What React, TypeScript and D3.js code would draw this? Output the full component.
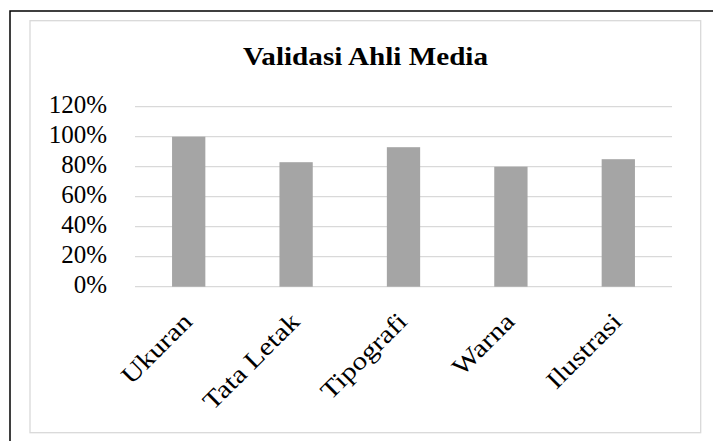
import React from "react";
import * as d3 from "d3";

const categories = ["Ukuran", "Tata Letak", "Tipografi", "Warna", "Ilustrasi"];
const values = [1.0, 0.83, 0.93, 0.8, 0.85];
const yTicks = [0, 0.2, 0.4, 0.6, 0.8, 1.0, 1.2];
const title = "Validasi Ahli Media";

const W = 713;
const H = 441;
const FONT = "Liberation Serif, DejaVu Serif, serif";

export default function App() {
  const plotL = 135, plotR = 672, plotT = 106.7, plotB = 286.7;
  const x = d3.scaleBand<string>().domain(categories).range([plotL, plotR]).paddingInner(0.69).paddingOuter(0.345);
  const y = d3.scaleLinear().domain([0, 1.2]).range([plotB, plotT]);
  const fmt = d3.format(".0%");
  return (
    <div style={{ position: "fixed", left: 0, top: 0 }}>
      <svg width={W} height={H} style={{ display: "block", background: "#fff", fontFamily: FONT }}>
        <rect x={0} y={0} width={W} height={H} fill="#fff" />
        <path d={`M10,${H + 2} L10,11 L${W + 2},11`} fill="none" stroke="#000" strokeWidth={1.5} />
        <rect x={30} y={20.7} width={670.7} height={412} fill="#fff" stroke="#d9d9d9" strokeWidth={1.3} />
        <text x={365.5} y={65} textAnchor="middle" style={{ fontFamily: FONT }} fontWeight="bold" fontSize={25} fill="#000" textLength={245} lengthAdjust="spacingAndGlyphs">
          {title}
        </text>
        {yTicks.map((t) => (
          <g key={t}>
            <line x1={plotL} x2={plotR} y1={y(t)} y2={y(t)} stroke="#d9d9d9" strokeWidth={1.3} />
            <text x={107} y={y(t) + 6.5} textAnchor="end" style={{ fontFamily: FONT }} fontSize={25} fill="#000">
              {fmt(t)}
            </text>
          </g>
        ))}
        {categories.map((c, i) => (
          <rect key={c} x={x(c)} y={y(values[i])} width={x.bandwidth()} height={plotB - y(values[i])} fill="#a5a5a5" />
        ))}
        {categories.map((c) => {
          const cx = (x(c) as number) + x.bandwidth() / 2;
          const ax = cx + 5;
          const ay = 323;
          return (
            <text key={c} x={0} y={0} textAnchor="end" transform={`translate(${ax},${ay}) rotate(-45) scale(1.18,1)`} style={{ fontFamily: FONT }} fontSize={25} fill="#000">
              {c}
            </text>
          );
        })}
      </svg>
    </div>
  );
}
